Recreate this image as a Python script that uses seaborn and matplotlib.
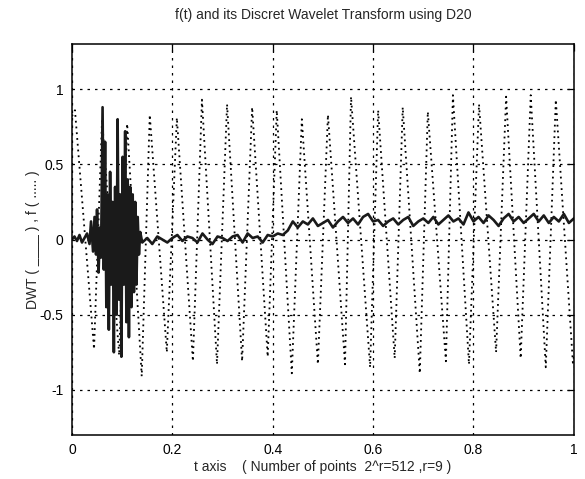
import numpy as np
import pandas as pd
import matplotlib
matplotlib.use("Agg")
import matplotlib.pyplot as plt
import seaborn as sns

# ---- data ----
# f(t): dotted signal, turning points (t, value)
f_t = [0.0, 0.006, 0.044, 0.060, 0.094, 0.110, 0.139, 0.155, 0.189, 0.209,
       0.241, 0.259, 0.289, 0.309, 0.339, 0.359, 0.390, 0.408, 0.438, 0.458,
       0.490, 0.510, 0.544, 0.556, 0.594, 0.610, 0.643, 0.659, 0.693, 0.709,
       0.745, 0.759, 0.791, 0.811, 0.845, 0.865, 0.894, 0.914, 0.944, 0.964,
       0.998, 1.0]
f_v = [0.82, 0.86, -0.73, 0.80, -0.77, 0.77, -0.91, 0.83, -0.75, 0.81,
       -0.81, 0.93, -0.83, 0.90, -0.81, 0.88, -0.78, 0.86, -0.89, 0.80,
       -0.83, 0.83, -0.83, 0.95, -0.85, 0.86, -0.79, 0.88, -0.89, 0.85,
       -0.81, 0.96, -0.83, 0.90, -0.75, 0.95, -0.79, 0.96, -0.85, 0.93,
       -0.82, -0.78]

# DWT: solid curve (t, value)
dwt_t = [0.0, 0.005, 0.01, 0.015, 0.02, 0.025, 0.03, 0.035,
         0.038, 0.042, 0.045, 0.048, 0.05, 0.053, 0.056, 0.058,
         0.061, 0.0635, 0.066, 0.0685, 0.071, 0.0735, 0.076, 0.0785, 0.081, 0.0835,
         0.086, 0.0885, 0.091, 0.0935, 0.096, 0.0985, 0.101, 0.1035, 0.106, 0.1085,
         0.111, 0.1135, 0.116, 0.1185, 0.121, 0.1235, 0.126, 0.1285, 0.131, 0.1335, 0.136,
         0.14, 0.15, 0.16, 0.17, 0.18, 0.19, 0.2, 0.21, 0.22, 0.23, 0.24, 0.25, 0.26,
         0.27, 0.28, 0.29, 0.3, 0.31, 0.32, 0.33, 0.34, 0.35, 0.36, 0.37, 0.38, 0.39,
         0.4, 0.41, 0.42,
         0.43, 0.44, 0.45, 0.46, 0.47, 0.48, 0.49, 0.5, 0.51, 0.52, 0.53, 0.54, 0.55,
         0.56, 0.57, 0.58, 0.59, 0.6, 0.61, 0.62, 0.63, 0.64, 0.65, 0.66, 0.67, 0.68,
         0.69, 0.7, 0.71, 0.72, 0.73, 0.74, 0.75, 0.76, 0.77, 0.78, 0.79, 0.8, 0.81,
         0.82, 0.83, 0.84, 0.85, 0.86, 0.87, 0.88, 0.89, 0.9, 0.91, 0.92, 0.93, 0.94,
         0.95, 0.96, 0.97, 0.98, 0.99, 1.0]
dwt_v = [0.0, 0.02, -0.01, 0.03, -0.02, 0.01, 0.04, -0.03,
         0.12, -0.08, 0.15, -0.1, 0.2, -0.22, 0.08, -0.12,
         0.88, -0.2, 0.65, -0.45, 0.3, -0.6, 0.45, -0.3, 0.25, -0.75,
         0.35, -0.5, 0.8, -0.4, 0.3, -0.78, 0.55, -0.3, 0.72, -0.55,
         0.4, -0.65, 0.35, -0.45, 0.3, -0.35, 0.25, -0.3, 0.15, -0.1, 0.05,
         -0.02, 0.01, -0.03, 0.02, 0.0, -0.02, 0.01, 0.03, -0.01, 0.02,
         0.01, -0.02, 0.04, 0.0, -0.03, 0.02, 0.01, -0.01, 0.02, 0.03,
         -0.02, 0.04, 0.01, 0.02, -0.02, 0.03, 0.02, 0.04, 0.03,
         0.06, 0.12, 0.08, 0.12, 0.10, 0.14, 0.09, 0.11, 0.13, 0.08,
         0.12, 0.15, 0.11, 0.14, 0.10, 0.15, 0.17, 0.12, 0.13, 0.09,
         0.12, 0.14, 0.10, 0.13, 0.15, 0.09, 0.12, 0.14, 0.11, 0.15,
         0.10, 0.13, 0.16, 0.12, 0.14, 0.10, 0.18, 0.12, 0.15, 0.11,
         0.16, 0.13, 0.09, 0.14, 0.17, 0.12, 0.15, 0.11, 0.14, 0.17,
         0.12, 0.16, 0.11, 0.15, 0.12, 0.17, 0.11, 0.14]

x_ticks = [0, 0.2, 0.4, 0.6, 0.8, 1]
x_tick_labels = ["0", "0.2", "0.4", "0.6", "0.8", "1"]
y_ticks = [-1, -0.5, 0, 0.5, 1]
y_tick_labels = ["-1", "-0.5", "0", "0.5", "1"]

title = "f(t) and its Discret Wavelet Transform using D20"
xlabel = "t axis    ( Number of points  2^r=512 ,r=9 )"
ylabel = "DWT ( ____ ) , f ( ..... )"

# ---- plotting ----
sns.set_style("white")
plt.rcParams["font.family"] = ["Liberation Sans", "DejaVu Sans"]

fig = plt.figure(figsize=(5.85, 4.79), dpi=100)
ax = fig.add_axes([0.123, 0.092, 0.858, 0.816])

f_df = pd.DataFrame({"t": f_t, "v": f_v})
d_df = pd.DataFrame({"t": dwt_t, "v": dwt_v})

sns.lineplot(data=f_df, x="t", y="v", ax=ax, color="black",
             linewidth=1.3, linestyle=(0, (1, 2.2)), sort=False)
sns.lineplot(data=d_df, x="t", y="v", ax=ax, color="#1a1a1a",
             linewidth=1.9, sort=False)

ax.set_xlim(0, 1)
ax.set_ylim(-1.3, 1.3)
ax.set_xticks(x_ticks)
ax.set_xticklabels(x_tick_labels)
ax.set_yticks(y_ticks)
ax.set_yticklabels(y_tick_labels)
ax.grid(True, color="black", linestyle=(0, (2, 4)), linewidth=0.9)
ax.tick_params(direction="in", length=5, width=0.9, top=True, right=True,
               labelsize=10, colors="black", pad=6)
for s in ax.spines.values():
    s.set_color("black")
    s.set_linewidth(1.1)

ax.set_title(title, fontsize=10, pad=18)
ax.set_xlabel(xlabel, fontsize=10, labelpad=2)
ax.set_ylabel(ylabel, fontsize=10, labelpad=0)

fig.savefig("out.png", dpi=100)
